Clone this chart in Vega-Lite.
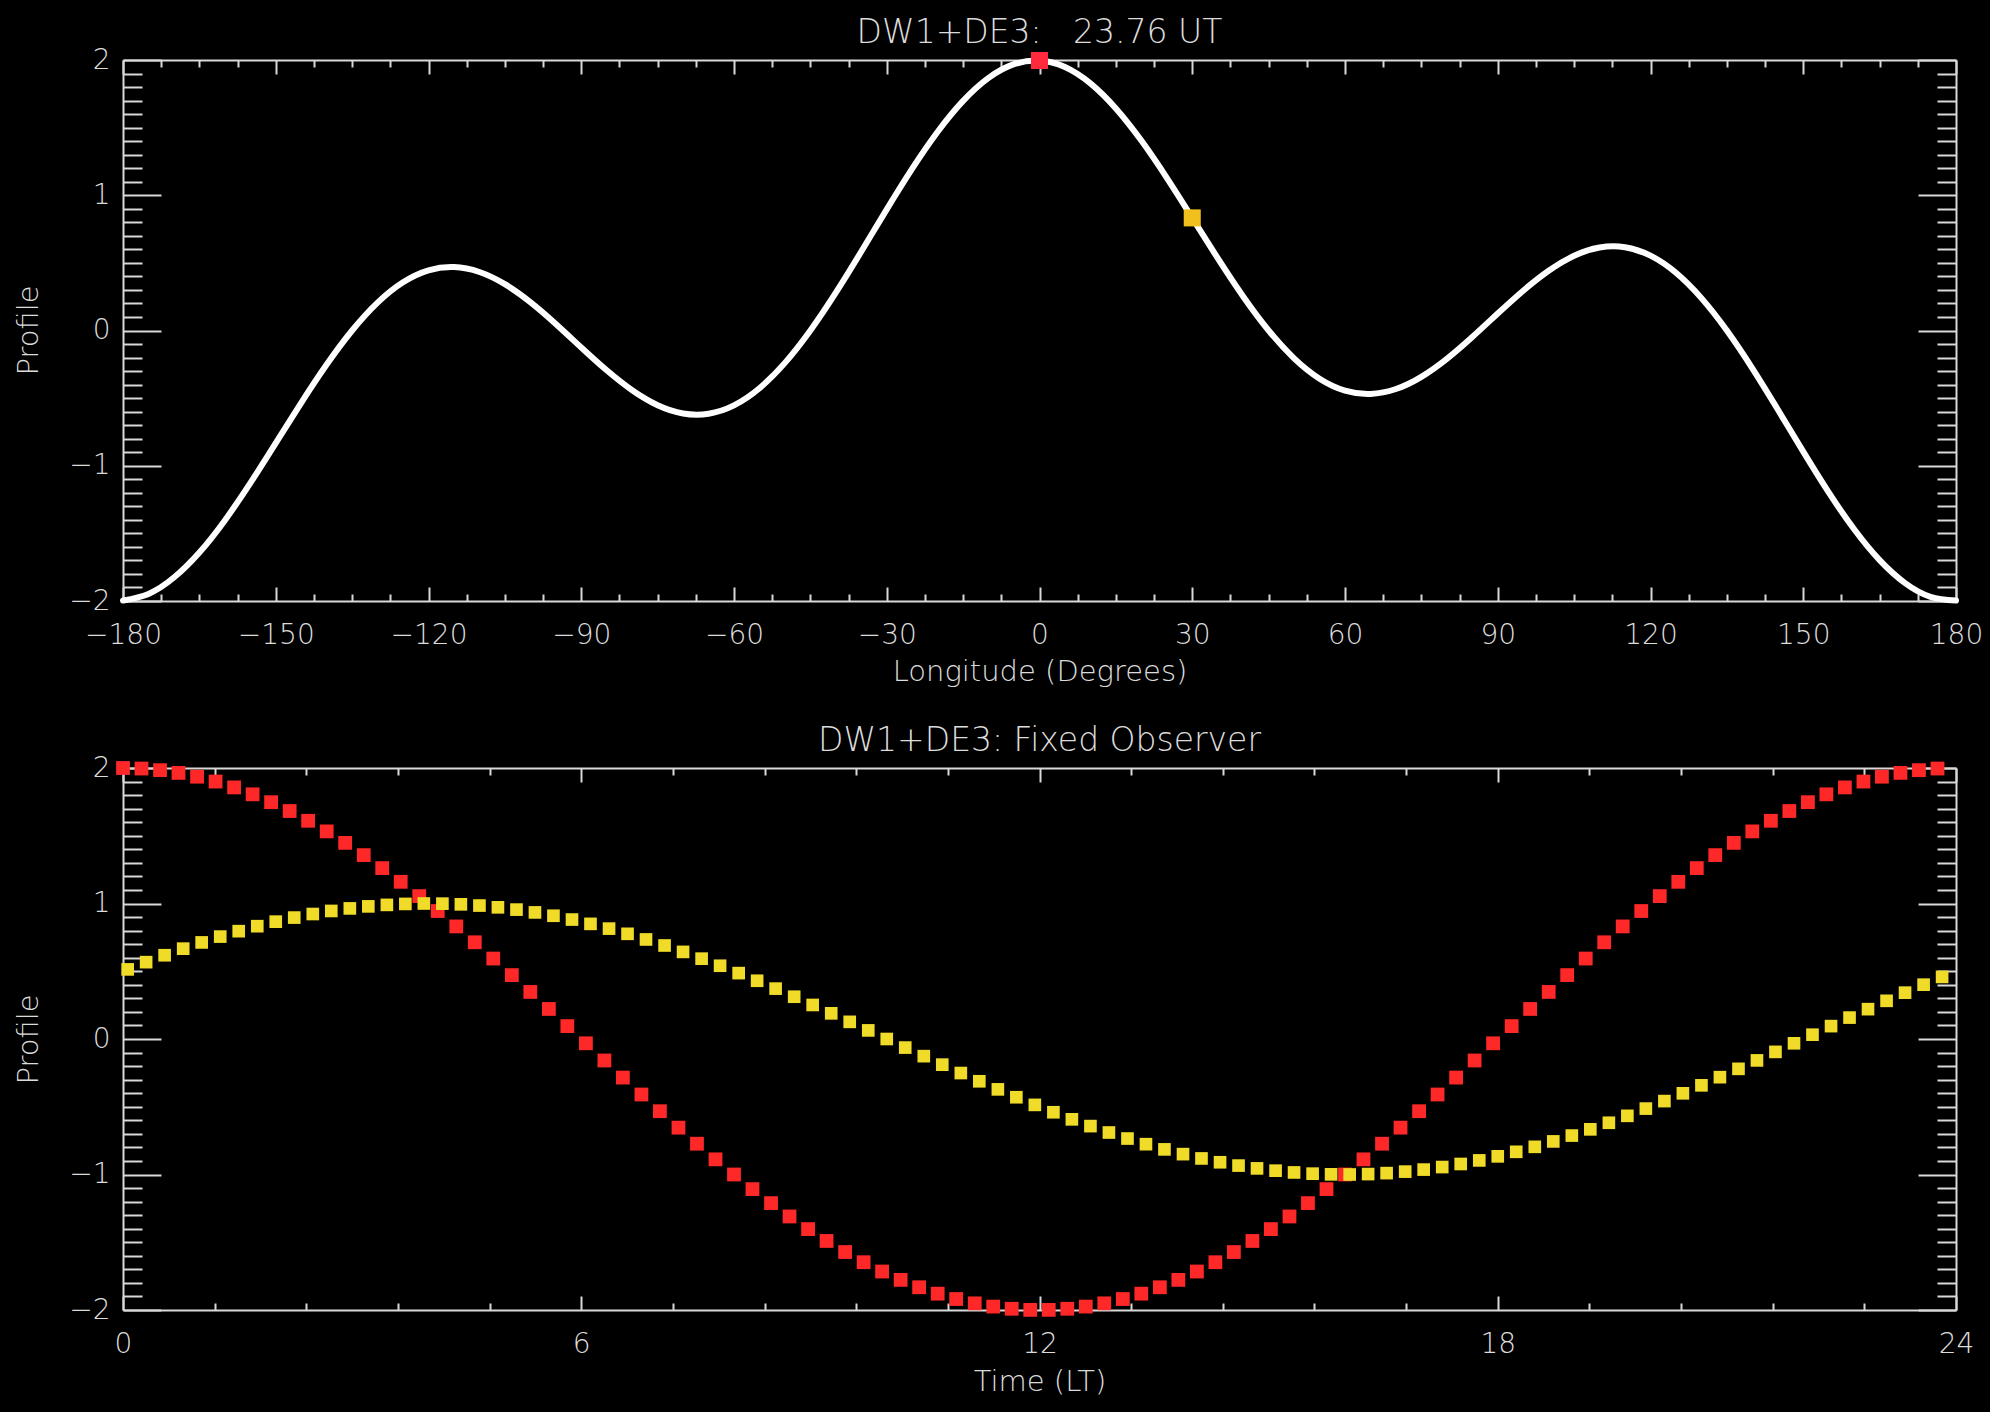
{
  "$schema": "https://vega.github.io/schema/vega-lite/v6.json",
  "background": "#000000",
  "autosize": {"type": "none"},
  "padding": {"left": 123, "top": 60, "right": 1867, "bottom": 1352},
  "bounds": "flush",
  "spacing": 167,
  "config": {
    "view": {"stroke": null},
    "axis": {
      "grid": false,
      "domainColor": "#d9d9d9",
      "domainWidth": 2,
      "tickColor": "#d9d9d9",
      "tickWidth": 2,
      "labelColor": "#dcdcdc",
      "labelFont": "DejaVu Sans",
      "labelFontSize": 28,
      "labelFontWeight": 200,
      "labelOverlap": false,
      "labelFlush": false,
      "labelBound": false,
      "titleColor": "#dcdcdc",
      "titleFont": "DejaVu Sans",
      "titleFontSize": 29,
      "titleFontWeight": 200
    },
    "title": {"color": "#dcdcdc", "font": "DejaVu Sans", "fontSize": 33, "fontWeight": 200}
  },
  "datasets": {
    "curve": [
      {"lon": -180, "profile": -1.9961}, {"lon": -175, "profile": -1.9475}, {"lon": -170, "profile": -1.8267}, {"lon": -165, "profile": -1.6416},
      {"lon": -160, "profile": -1.404}, {"lon": -155, "profile": -1.1287}, {"lon": -150, "profile": -0.8329}, {"lon": -145, "profile": -0.5346},
      {"lon": -140, "profile": -0.2515}, {"lon": -135, "profile": 0}, {"lon": -130, "profile": 0.2061}, {"lon": -125, "profile": 0.3564},
      {"lon": -120, "profile": 0.4446}, {"lon": -115, "profile": 0.4691}, {"lon": -110, "profile": 0.4326}, {"lon": -105, "profile": 0.3424},
      {"lon": -100, "profile": 0.2095}, {"lon": -95, "profile": 0.0481}, {"lon": -90, "profile": -0.1256}, {"lon": -85, "profile": -0.2945},
      {"lon": -80, "profile": -0.4419}, {"lon": -75, "profile": -0.5525}, {"lon": -70, "profile": -0.6134}, {"lon": -65, "profile": -0.6154},
      {"lon": -60, "profile": -0.5534}, {"lon": -55, "profile": -0.4268}, {"lon": -50, "profile": -0.2395}, {"lon": -45, "profile": 0},
      {"lon": -40, "profile": 0.2795}, {"lon": -35, "profile": 0.5839}, {"lon": -30, "profile": 0.8957}, {"lon": -25, "profile": 1.1969},
      {"lon": -20, "profile": 1.4698}, {"lon": -15, "profile": 1.6979}, {"lon": -10, "profile": 1.8677}, {"lon": -5, "profile": 1.969},
      {"lon": 0, "profile": 1.9961}, {"lon": 5, "profile": 1.9475}, {"lon": 10, "profile": 1.8267}, {"lon": 15, "profile": 1.6416},
      {"lon": 20, "profile": 1.404}, {"lon": 25, "profile": 1.1287}, {"lon": 30, "profile": 0.8329}, {"lon": 35, "profile": 0.5346},
      {"lon": 40, "profile": 0.2515}, {"lon": 45, "profile": 0}, {"lon": 50, "profile": -0.2061}, {"lon": 55, "profile": -0.3564},
      {"lon": 60, "profile": -0.4446}, {"lon": 65, "profile": -0.4691}, {"lon": 70, "profile": -0.4326}, {"lon": 75, "profile": -0.3424},
      {"lon": 80, "profile": -0.2095}, {"lon": 85, "profile": -0.0481}, {"lon": 90, "profile": 0.1256}, {"lon": 95, "profile": 0.2945},
      {"lon": 100, "profile": 0.4419}, {"lon": 105, "profile": 0.5525}, {"lon": 110, "profile": 0.6134}, {"lon": 115, "profile": 0.6154},
      {"lon": 120, "profile": 0.5534}, {"lon": 125, "profile": 0.4268}, {"lon": 130, "profile": 0.2395}, {"lon": 135, "profile": 0},
      {"lon": 140, "profile": -0.2795}, {"lon": 145, "profile": -0.5839}, {"lon": 150, "profile": -0.8957}, {"lon": 155, "profile": -1.1969},
      {"lon": 160, "profile": -1.4698}, {"lon": 165, "profile": -1.6979}, {"lon": 170, "profile": -1.8677}, {"lon": 175, "profile": -1.969},
      {"lon": 180, "profile": -1.9961}
    ],
    "markers": [
      {"lon": 0, "profile": 1.9961, "obs": "0"},
      {"lon": 30, "profile": 0.8326, "obs": "30"}
    ],
    "red": [
      {"lt": 0, "profile": 2}, {"lt": 0.242, "profile": 1.996}, {"lt": 0.485, "profile": 1.9839}, {"lt": 0.727, "profile": 1.9639},
      {"lt": 0.97, "profile": 1.9359}, {"lt": 1.212, "profile": 1.9001}, {"lt": 1.455, "profile": 1.8567}, {"lt": 1.697, "profile": 1.8058},
      {"lt": 1.939, "profile": 1.7477}, {"lt": 2.182, "profile": 1.6825}, {"lt": 2.424, "profile": 1.6105}, {"lt": 2.667, "profile": 1.5321},
      {"lt": 2.909, "profile": 1.4475}, {"lt": 3.152, "profile": 1.357}, {"lt": 3.394, "profile": 1.2611}, {"lt": 3.636, "profile": 1.1601},
      {"lt": 3.879, "profile": 1.0547}, {"lt": 4.121, "profile": 0.9445}, {"lt": 4.364, "profile": 0.8308}, {"lt": 4.606, "profile": 0.7138},
      {"lt": 4.848, "profile": 0.5938}, {"lt": 5.091, "profile": 0.4715}, {"lt": 5.333, "profile": 0.3473}, {"lt": 5.576, "profile": 0.2217},
      {"lt": 5.818, "profile": 0.0952}, {"lt": 6.061, "profile": -0.0317}, {"lt": 6.303, "profile": -0.1585}, {"lt": 6.545, "profile": -0.2846},
      {"lt": 6.788, "profile": -0.4096}, {"lt": 7.03, "profile": -0.5329}, {"lt": 7.273, "profile": -0.6541}, {"lt": 7.515, "profile": -0.7727},
      {"lt": 7.758, "profile": -0.8881}, {"lt": 8.0, "profile": -1.0}, {"lt": 8.242, "profile": -1.108}, {"lt": 8.485, "profile": -1.2113},
      {"lt": 8.727, "profile": -1.3097}, {"lt": 8.97, "profile": -1.4029}, {"lt": 9.212, "profile": -1.4905}, {"lt": 9.455, "profile": -1.5721},
      {"lt": 9.697, "profile": -1.6473}, {"lt": 9.939, "profile": -1.716}, {"lt": 10.182, "profile": -1.7777}, {"lt": 10.424, "profile": -1.8322},
      {"lt": 10.667, "profile": -1.8794}, {"lt": 10.909, "profile": -1.919}, {"lt": 11.152, "profile": -1.9509}, {"lt": 11.394, "profile": -1.9749},
      {"lt": 11.636, "profile": -1.9909}, {"lt": 11.879, "profile": -1.999}, {"lt": 12.121, "profile": -1.999}, {"lt": 12.364, "profile": -1.9909},
      {"lt": 12.606, "profile": -1.9749}, {"lt": 12.848, "profile": -1.9509}, {"lt": 13.091, "profile": -1.919}, {"lt": 13.333, "profile": -1.8794},
      {"lt": 13.576, "profile": -1.8322}, {"lt": 13.818, "profile": -1.7777}, {"lt": 14.061, "profile": -1.716}, {"lt": 14.303, "profile": -1.6473},
      {"lt": 14.545, "profile": -1.5721}, {"lt": 14.788, "profile": -1.4905}, {"lt": 15.03, "profile": -1.4029}, {"lt": 15.273, "profile": -1.3097},
      {"lt": 15.515, "profile": -1.2113}, {"lt": 15.758, "profile": -1.108}, {"lt": 16.0, "profile": -1.0}, {"lt": 16.242, "profile": -0.8881},
      {"lt": 16.485, "profile": -0.7727}, {"lt": 16.727, "profile": -0.6541}, {"lt": 16.97, "profile": -0.5329}, {"lt": 17.212, "profile": -0.4096},
      {"lt": 17.455, "profile": -0.2846}, {"lt": 17.697, "profile": -0.1585}, {"lt": 17.939, "profile": -0.0317}, {"lt": 18.182, "profile": 0.0952},
      {"lt": 18.424, "profile": 0.2217}, {"lt": 18.667, "profile": 0.3473}, {"lt": 18.909, "profile": 0.4715}, {"lt": 19.152, "profile": 0.5938},
      {"lt": 19.394, "profile": 0.7138}, {"lt": 19.636, "profile": 0.8308}, {"lt": 19.879, "profile": 0.9445}, {"lt": 20.121, "profile": 1.0547},
      {"lt": 20.364, "profile": 1.1601}, {"lt": 20.606, "profile": 1.2611}, {"lt": 20.848, "profile": 1.357}, {"lt": 21.091, "profile": 1.4475},
      {"lt": 21.333, "profile": 1.5321}, {"lt": 21.576, "profile": 1.6105}, {"lt": 21.818, "profile": 1.6825}, {"lt": 22.061, "profile": 1.7477},
      {"lt": 22.303, "profile": 1.8058}, {"lt": 22.545, "profile": 1.8567}, {"lt": 22.788, "profile": 1.9001}, {"lt": 23.03, "profile": 1.9359},
      {"lt": 23.273, "profile": 1.9639}, {"lt": 23.515, "profile": 1.9839}, {"lt": 23.758, "profile": 1.996}
    ],
    "yellow": [
      {"lt": 2.0, "profile": 0.866}, {"lt": 2.242, "profile": 0.896}, {"lt": 2.485, "profile": 0.9224}, {"lt": 2.727, "profile": 0.945},
      {"lt": 2.97, "profile": 0.9638}, {"lt": 3.212, "profile": 0.9788}, {"lt": 3.455, "profile": 0.9898}, {"lt": 3.697, "profile": 0.9969},
      {"lt": 3.939, "profile": 0.9999}, {"lt": 4.182, "profile": 0.9989}, {"lt": 4.424, "profile": 0.9938}, {"lt": 4.667, "profile": 0.9848},
      {"lt": 4.909, "profile": 0.9718}, {"lt": 5.152, "profile": 0.9549}, {"lt": 5.394, "profile": 0.9342}, {"lt": 5.636, "profile": 0.9096},
      {"lt": 5.879, "profile": 0.8815}, {"lt": 6.121, "profile": 0.8497}, {"lt": 6.364, "profile": 0.8146}, {"lt": 6.606, "profile": 0.7762},
      {"lt": 6.848, "profile": 0.7346}, {"lt": 7.091, "profile": 0.6901}, {"lt": 7.333, "profile": 0.6428}, {"lt": 7.576, "profile": 0.5929},
      {"lt": 7.818, "profile": 0.5406}, {"lt": 8.061, "profile": 0.4862}, {"lt": 8.303, "profile": 0.4298}, {"lt": 8.545, "profile": 0.3717},
      {"lt": 8.788, "profile": 0.312}, {"lt": 9.03, "profile": 0.2512}, {"lt": 9.273, "profile": 0.1893}, {"lt": 9.515, "profile": 0.1266},
      {"lt": 9.758, "profile": 0.0634}, {"lt": 10.0, "profile": 0.0}, {"lt": 10.242, "profile": -0.0634}, {"lt": 10.485, "profile": -0.1266},
      {"lt": 10.727, "profile": -0.1893}, {"lt": 10.97, "profile": -0.2512}, {"lt": 11.212, "profile": -0.312}, {"lt": 11.455, "profile": -0.3717},
      {"lt": 11.697, "profile": -0.4298}, {"lt": 11.939, "profile": -0.4862}, {"lt": 12.182, "profile": -0.5406}, {"lt": 12.424, "profile": -0.5929},
      {"lt": 12.667, "profile": -0.6428}, {"lt": 12.909, "profile": -0.6901}, {"lt": 13.152, "profile": -0.7346}, {"lt": 13.394, "profile": -0.7762},
      {"lt": 13.636, "profile": -0.8146}, {"lt": 13.879, "profile": -0.8497}, {"lt": 14.121, "profile": -0.8815}, {"lt": 14.364, "profile": -0.9096},
      {"lt": 14.606, "profile": -0.9342}, {"lt": 14.848, "profile": -0.9549}, {"lt": 15.091, "profile": -0.9718}, {"lt": 15.333, "profile": -0.9848},
      {"lt": 15.576, "profile": -0.9938}, {"lt": 15.818, "profile": -0.9989}, {"lt": 16.061, "profile": -0.9999}, {"lt": 16.303, "profile": -0.9969},
      {"lt": 16.545, "profile": -0.9898}, {"lt": 16.788, "profile": -0.9788}, {"lt": 17.03, "profile": -0.9638}, {"lt": 17.273, "profile": -0.945},
      {"lt": 17.515, "profile": -0.9224}, {"lt": 17.758, "profile": -0.896}, {"lt": 18.0, "profile": -0.866}, {"lt": 18.242, "profile": -0.8326},
      {"lt": 18.485, "profile": -0.7958}, {"lt": 18.727, "profile": -0.7558}, {"lt": 18.97, "profile": -0.7127}, {"lt": 19.212, "profile": -0.6668},
      {"lt": 19.455, "profile": -0.6182}, {"lt": 19.697, "profile": -0.5671}, {"lt": 19.939, "profile": -0.5137}, {"lt": 20.182, "profile": -0.4582},
      {"lt": 20.424, "profile": -0.4009}, {"lt": 20.667, "profile": -0.342}, {"lt": 20.909, "profile": -0.2817}, {"lt": 21.152, "profile": -0.2203},
      {"lt": 21.394, "profile": -0.158}, {"lt": 21.636, "profile": -0.0951}, {"lt": 21.879, "profile": -0.0317}, {"lt": 22.121, "profile": 0.0317},
      {"lt": 22.364, "profile": 0.0951}, {"lt": 22.606, "profile": 0.158}, {"lt": 22.848, "profile": 0.2203}, {"lt": 23.091, "profile": 0.2817},
      {"lt": 23.333, "profile": 0.342}, {"lt": 23.576, "profile": 0.4009}, {"lt": 23.818, "profile": 0.4582}, {"lt": 0.061, "profile": 0.5137},
      {"lt": 0.303, "profile": 0.5671}, {"lt": 0.545, "profile": 0.6182}, {"lt": 0.788, "profile": 0.6668}, {"lt": 1.03, "profile": 0.7127},
      {"lt": 1.273, "profile": 0.7558}, {"lt": 1.515, "profile": 0.7958}, {"lt": 1.758, "profile": 0.8326}
    ]
  },
  "vconcat": [
    {
      "width": 1833,
      "height": 541,
      "title": {"text": "DW1+DE3:\u00a0\u00a0 23.76 UT", "frame": "group", "anchor": "middle", "baseline": "alphabetic", "offset": -30},
      "resolve": {"axis": {"x": "independent", "y": "independent"}},
      "layer": [
        {
          "data": {"name": "curve"},
          "mark": {"type": "line", "color": "#ffffff", "strokeWidth": 6, "interpolate": "natural", "strokeCap": "round"},
          "encoding": {
            "x": {"field": "lon", "type": "quantitative", "scale": {"domain": [-180, 180], "nice": false, "zero": false},
              "axis": {"orient": "bottom", "values": [-180, -150, -120, -90, -60, -30, 0, 30, 60, 90, 120, 150, 180], "tickSize": -14, "labelPadding": 56, "labelBaseline": "alphabetic", "title": "Longitude (Degrees)", "titleY": 79, "titleBaseline": "alphabetic"}},
            "y": {"field": "profile", "type": "quantitative", "scale": {"domain": [-2, 2], "nice": false, "zero": false},
              "axis": {"orient": "left", "values": [-2, -1, 0, 1, 2], "tickSize": -38, "labelPadding": 51, "title": "Profile", "titleX": -86, "titleY": 270, "titleAngle": -90, "titleAlign": "center", "titleBaseline": "alphabetic"}}
          }
        },
        {
          "data": {"name": "curve"},
          "mark": {"type": "point", "opacity": 0},
          "encoding": {
            "x": {"field": "lon", "type": "quantitative", "scale": {"domain": [-180, 180], "nice": false, "zero": false},
              "axis": {"orient": "bottom", "values": [-172.5, -165, -157.5, -142.5, -135, -127.5, -112.5, -105, -97.5, -82.5, -75, -67.5, -52.5, -45, -37.5, -22.5, -15, -7.5, 7.5, 15, 22.5, 37.5, 45, 52.5, 67.5, 75, 82.5, 97.5, 105, 112.5, 127.5, 135, 142.5, 157.5, 165, 172.5], "tickSize": -7, "labels": false, "domain": false, "title": null}},
            "y": {"field": "profile", "type": "quantitative", "scale": {"domain": [-2, 2], "nice": false, "zero": false},
              "axis": {"orient": "left", "values": [-1.9, -1.8, -1.7, -1.6, -1.5, -1.4, -1.3, -1.2, -1.1, -0.9, -0.8, -0.7, -0.6, -0.5, -0.4, -0.3, -0.2, -0.1, 0.1, 0.2, 0.3, 0.4, 0.5, 0.6, 0.7, 0.8, 0.9, 1.1, 1.2, 1.3, 1.4, 1.5, 1.6, 1.7, 1.8, 1.9], "tickSize": -19, "labels": false, "domain": false, "title": null}}
          }
        },
        {
          "data": {"name": "curve"},
          "mark": {"type": "point", "opacity": 0},
          "encoding": {
            "x": {"field": "lon", "type": "quantitative", "scale": {"domain": [-180, 180], "nice": false, "zero": false},
              "axis": {"orient": "top", "values": [-180, -150, -120, -90, -60, -30, 0, 30, 60, 90, 120, 150, 180], "tickSize": -14, "labels": false, "title": null}},
            "y": {"field": "profile", "type": "quantitative", "scale": {"domain": [-2, 2], "nice": false, "zero": false},
              "axis": {"orient": "right", "values": [-2, -1, 0, 1, 2], "tickSize": -38, "labels": false, "title": null}}
          }
        },
        {
          "data": {"name": "curve"},
          "mark": {"type": "point", "opacity": 0},
          "encoding": {
            "x": {"field": "lon", "type": "quantitative", "scale": {"domain": [-180, 180], "nice": false, "zero": false},
              "axis": {"orient": "top", "values": [-172.5, -165, -157.5, -142.5, -135, -127.5, -112.5, -105, -97.5, -82.5, -75, -67.5, -52.5, -45, -37.5, -22.5, -15, -7.5, 7.5, 15, 22.5, 37.5, 45, 52.5, 67.5, 75, 82.5, 97.5, 105, 112.5, 127.5, 135, 142.5, 157.5, 165, 172.5], "tickSize": -7, "labels": false, "domain": false, "title": null}},
            "y": {"field": "profile", "type": "quantitative", "scale": {"domain": [-2, 2], "nice": false, "zero": false},
              "axis": {"orient": "right", "values": [-1.9, -1.8, -1.7, -1.6, -1.5, -1.4, -1.3, -1.2, -1.1, -0.9, -0.8, -0.7, -0.6, -0.5, -0.4, -0.3, -0.2, -0.1, 0.1, 0.2, 0.3, 0.4, 0.5, 0.6, 0.7, 0.8, 0.9, 1.1, 1.2, 1.3, 1.4, 1.5, 1.6, 1.7, 1.8, 1.9], "tickSize": -19, "labels": false, "domain": false, "title": null}}
          }
        },
        {
          "data": {"name": "markers"},
          "mark": {"type": "square", "filled": true, "size": 290, "opacity": 1},
          "encoding": {
            "x": {"field": "lon", "type": "quantitative", "scale": {"domain": [-180, 180], "nice": false, "zero": false}, "axis": null},
            "y": {"field": "profile", "type": "quantitative", "scale": {"domain": [-2, 2], "nice": false, "zero": false}, "axis": null},
            "color": {"field": "obs", "type": "nominal", "scale": {"domain": ["0", "30"], "range": ["#ff2a3c", "#f2c01c"]}, "legend": null}
          }
        }
      ]
    },
    {
      "width": 1833,
      "height": 542,
      "title": {"text": "DW1+DE3: Fixed Observer", "frame": "group", "anchor": "middle", "baseline": "alphabetic", "offset": -30},
      "resolve": {"axis": {"x": "independent", "y": "independent"}},
      "layer": [
        {
          "data": {"name": "red"},
          "mark": {"type": "square", "filled": true, "size": 190, "color": "#ff2828", "opacity": 1},
          "encoding": {
            "x": {"field": "lt", "type": "quantitative", "scale": {"domain": [0, 24], "nice": false, "zero": false},
              "axis": {"orient": "bottom", "values": [0, 6, 12, 18, 24], "tickSize": -14, "labelPadding": 56, "labelBaseline": "alphabetic", "title": "Time (LT)", "titleY": 80, "titleBaseline": "alphabetic"}},
            "y": {"field": "profile", "type": "quantitative", "scale": {"domain": [-2, 2], "nice": false, "zero": false},
              "axis": {"orient": "left", "values": [-2, -1, 0, 1, 2], "tickSize": -38, "labelPadding": 51, "title": "Profile", "titleX": -86, "titleY": 271, "titleAngle": -90, "titleAlign": "center", "titleBaseline": "alphabetic"}}
          }
        },
        {
          "data": {"name": "yellow"},
          "mark": {"type": "square", "filled": true, "size": 160, "color": "#f0dc28", "opacity": 1},
          "encoding": {
            "x": {"field": "lt", "type": "quantitative", "scale": {"domain": [0, 24], "nice": false, "zero": false},
              "axis": {"orient": "bottom", "values": [1.2, 2.4, 3.6, 4.8, 7.2, 8.4, 9.6, 10.8, 13.2, 14.4, 15.6, 16.8, 19.2, 20.4, 21.6, 22.8], "tickSize": -7, "labels": false, "domain": false, "title": null}},
            "y": {"field": "profile", "type": "quantitative", "scale": {"domain": [-2, 2], "nice": false, "zero": false},
              "axis": {"orient": "left", "values": [-1.9, -1.8, -1.7, -1.6, -1.5, -1.4, -1.3, -1.2, -1.1, -0.9, -0.8, -0.7, -0.6, -0.5, -0.4, -0.3, -0.2, -0.1, 0.1, 0.2, 0.3, 0.4, 0.5, 0.6, 0.7, 0.8, 0.9, 1.1, 1.2, 1.3, 1.4, 1.5, 1.6, 1.7, 1.8, 1.9], "tickSize": -19, "labels": false, "domain": false, "title": null}}
          }
        },
        {
          "data": {"name": "red"},
          "mark": {"type": "point", "opacity": 0},
          "encoding": {
            "x": {"field": "lt", "type": "quantitative", "scale": {"domain": [0, 24], "nice": false, "zero": false},
              "axis": {"orient": "top", "values": [0, 6, 12, 18, 24], "tickSize": -14, "labels": false, "title": null}},
            "y": {"field": "profile", "type": "quantitative", "scale": {"domain": [-2, 2], "nice": false, "zero": false},
              "axis": {"orient": "right", "values": [-2, -1, 0, 1, 2], "tickSize": -38, "labels": false, "title": null}}
          }
        },
        {
          "data": {"name": "red"},
          "mark": {"type": "point", "opacity": 0},
          "encoding": {
            "x": {"field": "lt", "type": "quantitative", "scale": {"domain": [0, 24], "nice": false, "zero": false},
              "axis": {"orient": "top", "values": [1.2, 2.4, 3.6, 4.8, 7.2, 8.4, 9.6, 10.8, 13.2, 14.4, 15.6, 16.8, 19.2, 20.4, 21.6, 22.8], "tickSize": -7, "labels": false, "domain": false, "title": null}},
            "y": {"field": "profile", "type": "quantitative", "scale": {"domain": [-2, 2], "nice": false, "zero": false},
              "axis": {"orient": "right", "values": [-1.9, -1.8, -1.7, -1.6, -1.5, -1.4, -1.3, -1.2, -1.1, -0.9, -0.8, -0.7, -0.6, -0.5, -0.4, -0.3, -0.2, -0.1, 0.1, 0.2, 0.3, 0.4, 0.5, 0.6, 0.7, 0.8, 0.9, 1.1, 1.2, 1.3, 1.4, 1.5, 1.6, 1.7, 1.8, 1.9], "tickSize": -19, "labels": false, "domain": false, "title": null}}
          }
        }
      ]
    }
  ]
}
